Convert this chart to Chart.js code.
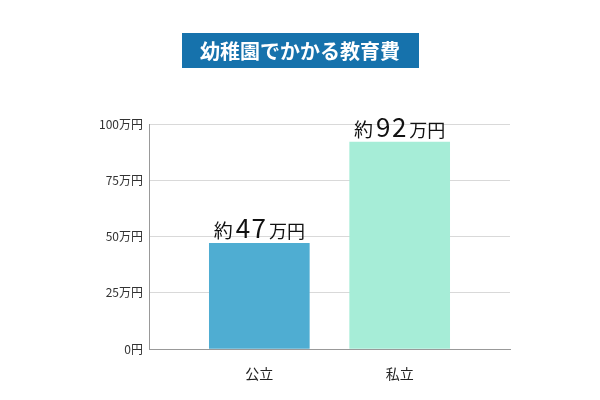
<!DOCTYPE html>
<html>
<head>
<meta charset="utf-8">
<script src="https://cdn.jsdelivr.net/npm/chart.js"></script>
<style>
  html, body { margin: 0; padding: 0; background: #fff; }
  #wrap { width: 600px; height: 400px; }
</style>
</head>
<body>
<div id="wrap"><canvas id="chart"></canvas></div>
<script>
// Chart data
const titleText = '幼稚園でかかる教育費';
const categories = ['公立', '私立'];
const values = [47, 92];
const barColors = ['#4FADD2', '#A6EDD7'];
const yTicks = [0, 25, 50, 75, 100];

const FONT = '"Noto Sans CJK JP", "Noto Sans", sans-serif';

// title in a filled box
const titleBox = {
  id: 'titleBox',
  afterDraw(chart) {
    const ctx = chart.ctx;
    ctx.save();
    ctx.fillStyle = '#1672AC';
    ctx.fillRect(182, 33, 237, 35);
    ctx.fillStyle = '#fff';
    ctx.font = 'bold 20px ' + FONT;
    ctx.textAlign = 'center';
    ctx.textBaseline = 'middle';
    ctx.fillText(titleText, 300, 51);
    ctx.restore();
  }
};

// "約47万円" above each bar, digits in a larger size
const valueLabels = {
  id: 'valueLabels',
  afterDatasetsDraw(chart) {
    const ctx = chart.ctx;
    const meta = chart.getDatasetMeta(0);
    ctx.save();
    ctx.fillStyle = '#111';
    ctx.textBaseline = 'alphabetic';
    ctx.textAlign = 'left';
    meta.data.forEach((bar, i) => {
      // [text, font, letter spacing, gap after]
      const parts = [
        ['約', '19px ' + FONT, 0, 3],
        [String(values[i]), '26px ' + FONT, 1.5, 3],
        ['万円', '18px ' + FONT, 0, 0]
      ];
      const widths = parts.map(p => {
        ctx.font = p[1];
        return ctx.measureText(p[0]).width + p[2] * (p[0].length - 1);
      });
      const total = widths.reduce((a, w, k) => a + w + parts[k][3], 0);
      let x = bar.x - total / 2;
      const y = bar.y - 5;
      parts.forEach((p, k) => {
        ctx.font = p[1];
        let cx = x;
        for (const ch of p[0]) {
          ctx.fillText(ch, cx, y);
          cx += ctx.measureText(ch).width + p[2];
        }
        x += widths[k] + p[3];
      });
    });
    ctx.restore();
  }
};

new Chart(document.getElementById('chart'), {
  type: 'bar',
  data: {
    datasets: [{
      data: categories.map((c, i) => ({ x: i, y: values[i] })),
      backgroundColor: barColors,
      borderWidth: 0,
      barThickness: 100
    }]
  },
  options: {
    responsive: true,
    maintainAspectRatio: false,
    animation: false,
    layout: { padding: { top: 124, right: 90, left: 0, bottom: 0 } },
    plugins: {
      legend: { display: false },
      tooltip: { enabled: false },
      title: { display: false }
    },
    scales: {
      x: {
        type: 'linear',
        offset: false,
        min: -0.786,
        max: 1.786,
        grid: { display: false, offset: false },
        border: { display: true, color: '#999', width: 1 },
        afterBuildTicks: scale => { scale.ticks = categories.map((c, i) => ({ value: i })); },
        afterFit: scale => { scale.height = 51; },
        ticks: {
          callback: v => categories[v],
          color: '#222',
          font: { family: FONT, size: 14 },
          padding: 8,
          maxRotation: 0
        }
      },
      y: {
        min: 0,
        max: 100,
        afterBuildTicks: scale => { scale.ticks = yTicks.map(v => ({ value: v })); },
        afterFit: scale => { scale.width = 149; },
        grid: { color: '#d9d9d9', drawTicks: false },
        border: { display: true, color: '#999', width: 1 },
        ticks: {
          callback: v => v === 0 ? '0円' : v + '万円',
          color: '#333',
          font: { family: FONT, size: 12 },
          padding: 6
        }
      }
    }
  },
  plugins: [titleBox, valueLabels]
});
</script>
</body>
</html>
